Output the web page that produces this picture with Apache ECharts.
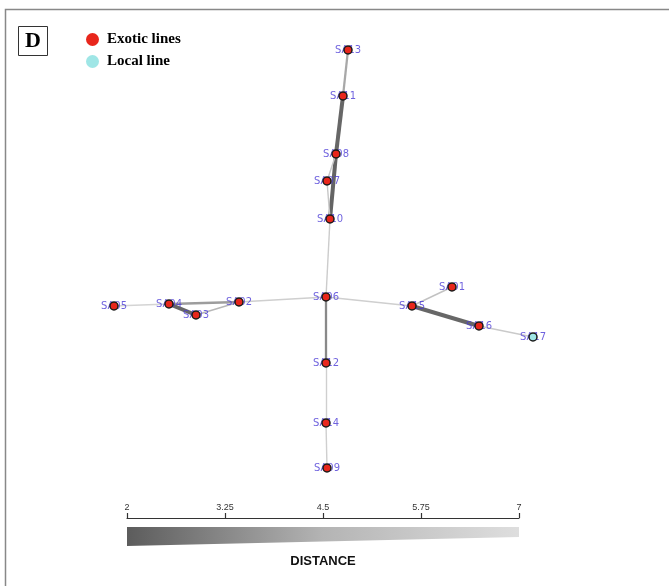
<!DOCTYPE html>
<html><head><meta charset="utf-8">
<script src="https://cdn.jsdelivr.net/npm/echarts@6/dist/echarts.min.js"></script>
<style>html,body{margin:0;padding:0;background:#fff}#c{width:669px;height:586px}</style>
</head><body><div id="c"></div>
<script>
// node layout (layout-space coordinates)
const nodeNames = ['SA13','SA11','SA08','SA07','SA10','SA06','SA12','SA14','SA09','SA05','SA04','SA03','SA02','SA15','SA01','SA16','SA17'];
const nodeX = [348,343,336,327,330,326,326,326,327,114,169,196,239,412,452,479,533];
const nodeY = [50,96,154,181,219,297,363,423,468,306,304,315,302,306,287,326,337];
const nodeGroup = ['Exotic lines','Exotic lines','Exotic lines','Exotic lines','Exotic lines','Exotic lines','Exotic lines','Exotic lines','Exotic lines','Exotic lines','Exotic lines','Exotic lines','Exotic lines','Exotic lines','Exotic lines','Exotic lines','Local line'];
// edges: source, target, distance
const edgeSource = ['SA13','SA11','SA08','SA08','SA07','SA10','SA06','SA12','SA14','SA06','SA06','SA02','SA04','SA03','SA04','SA15','SA15','SA16'];
const edgeTarget = ['SA11','SA08','SA10','SA07','SA10','SA06','SA12','SA14','SA09','SA02','SA15','SA04','SA03','SA02','SA05','SA16','SA01','SA17'];
const edgeDist   = [4.8, 2.3, 2.2, 6.0, 6.0, 6.2, 3.6, 6.3, 6.3, 6.3, 6.3, 4.4, 2.3, 5.4, 6.5, 2.3, 5.8, 6.1];
// distance scale
const scaleMin = 2, scaleMax = 7, scaleStep = 1.25;
const scaleLabels = ['2','3.25','4.5','5.75','7'];

function grayFor(d){
  const t = (d - scaleMin) / (scaleMax - scaleMin);
  const v = Math.round(95 + t * (225 - 95));
  return 'rgb(' + v + ',' + v + ',' + v + ')';
}
function widthFor(d){ return d < 3 ? 4 : (d < 5 ? 2.3 : 1.4); }

const graphData = nodeNames.map((n,i)=>({name:n, value:[nodeX[i], nodeY[i]]}));
const links = edgeSource.map((s,i)=>({source:s, target:edgeTarget[i],
  lineStyle:{color:grayFor(edgeDist[i]), width:widthFor(edgeDist[i]), opacity:1}}));
const labelData = nodeNames.map((n,i)=>[nodeX[i], nodeY[i], n]);

const exotic = [], local = [];
nodeNames.forEach((n,i)=>{ (nodeGroup[i]==='Local line'?local:exotic).push([nodeX[i],nodeY[i],n]); });

const chart = echarts.init(document.getElementById('c'), null, {renderer:'canvas'});
chart.setOption({
  animation:false,
  backgroundColor:'#fff',
  title:[{text:'D', left:18, top:26, borderColor:'#333', borderWidth:1, padding:[4,7,4,7],
    textStyle:{fontFamily:'Liberation Serif', fontWeight:'bold', fontSize:22, color:'#000'}}],
  legend:{orient:'vertical', left:81, top:27, itemWidth:13, itemHeight:16, itemGap:7,
    icon:'circle', data:['Exotic lines','Local line'],
    itemStyle:{borderWidth:0},
    textStyle:{fontFamily:'Liberation Serif', fontWeight:'bold', fontSize:15, color:'#000', padding:[0,0,0,3]}},
  grid:[{left:0, top:0, width:669, height:586, show:false},
        {left:127, top:518, width:392, height:30, show:false}],
  xAxis:[{gridIndex:0, type:'value', min:0, max:669, show:false},
         {gridIndex:1, type:'value', position:'top', min:scaleMin, max:scaleMax, interval:scaleStep,
          axisLine:{show:true, lineStyle:{color:'#333', width:1.2}},
          axisTick:{show:true, length:5, lineStyle:{color:'#333', width:1.2}},
          splitLine:{show:false},
          axisLabel:{show:true, margin:6, fontFamily:'Liberation Sans', fontSize:9, color:'#333',
            formatter:(v)=>{const s=(+v.toFixed(2)).toString(); return scaleLabels.indexOf(s)>=0?s:'';}}}],
  yAxis:[{gridIndex:0, type:'value', min:0, max:586, inverse:true, show:false},
         {gridIndex:1, type:'value', min:0, max:30, inverse:true, show:false}],
  graphic:[
    {type:'rect', shape:{x:5.5, y:9.5, width:700, height:600}, style:{fill:null, stroke:'#888', lineWidth:1.5}, z:-1},
    {type:'text', x:323, y:555, style:{text:'DISTANCE', textAlign:'center', font:'bold 13px "Liberation Sans"', fill:'#111'}}
  ],
  series:[
    {type:'graph', coordinateSystem:'cartesian2d', xAxisIndex:0, yAxisIndex:0, z:1,
      symbolSize:0, label:{show:false},
      data:graphData, links:links},
    {type:'scatter', xAxisIndex:0, yAxisIndex:0, z:3, symbolSize:1, silent:true,
      itemStyle:{color:'rgba(0,0,0,0)'},
      label:{show:true, position:'inside', fontFamily:'DejaVu Sans', fontSize:10, color:'#4a3ad6',
        formatter:(p)=>p.value[2]},
      labelLayout:{hideOverlap:false},
      data:labelData},
    {name:'Exotic lines', type:'scatter', xAxisIndex:0, yAxisIndex:0, z:5, symbolSize:8,
      itemStyle:{color:'#e8261c', borderColor:'#1a1a1a', borderWidth:1.5, opacity:1},
      data:exotic},
    {name:'Local line', type:'scatter', xAxisIndex:0, yAxisIndex:0, z:5, symbolSize:8,
      itemStyle:{color:'#9fe6e6', borderColor:'#1a1a1a', borderWidth:1.5, opacity:1},
      data:local},
    {type:'custom', xAxisIndex:1, yAxisIndex:1, silent:true, data:[[scaleMin, scaleMax]],
      renderItem:function(params, api){
        const a = api.coord([scaleMin, 9]);
        const b = api.coord([scaleMax, 9]);
        const c = api.coord([scaleMax, 19]);
        const d = api.coord([scaleMin, 28]);
        return {type:'polygon', shape:{points:[a,b,c,d]},
          style:{fill:new echarts.graphic.LinearGradient(0,0,1,0,[{offset:0,color:'#5c5c5c'},{offset:0.5,color:'#b4b4b4'},{offset:1,color:'#dedede'}])}};
      }}
  ]
});
</script></body></html>
